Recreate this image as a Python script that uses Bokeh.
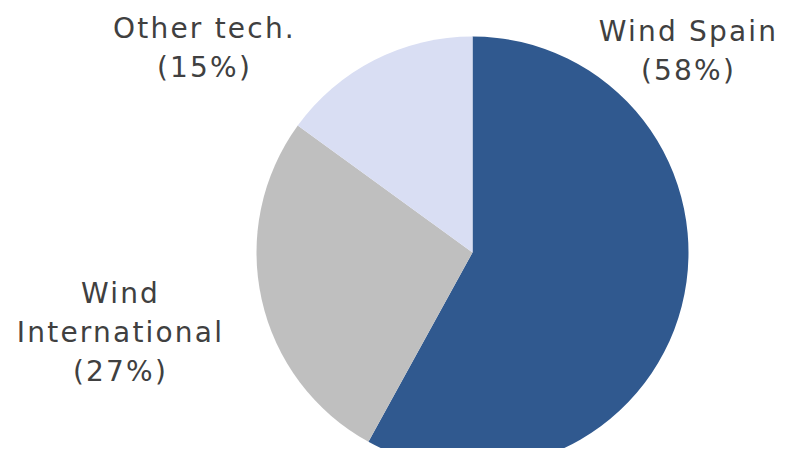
import numpy as np
from bokeh.plotting import figure
from bokeh.models import ColumnDataSource, InlineStyleSheet
from bokeh.core.properties import value
from bokeh.embed import file_html
from bokeh.resources import INLINE

# Data
categories = ["Wind Spain", "Wind International", "Other tech."]
label_lines = [["Wind Spain"], ["Wind", "International"], ["Other tech."]]
shares = [58, 27, 15]
colors = ["#30598F", "#BFBFBF", "#D9DEF3"]

W, H = 780, 448
p = figure(width=W, height=H, output_backend="svg", toolbar_location=None,
           x_range=(0, W), y_range=(0, H), min_border=0)
p.axis.visible = False
p.grid.visible = False
p.outline_line_color = None
p.background_fill_color = "white"
p.border_fill_color = "white"

cx, cy, r = 472, 196, 216
vals = np.array(shares, dtype=float)
frac = vals / vals.sum()
ends = np.pi / 2 - 2 * np.pi * np.cumsum(frac)
starts = np.concatenate([[np.pi / 2], ends[:-1]])

src = ColumnDataSource(dict(start=ends, end=starts, color=colors, name=categories))
p.wedge(x=cx, y=cy, radius=r, start_angle="start", end_angle="end",
        fill_color="color", line_color=None, source=src)

# label placement (layout): block centres in plot pixels
LS = 2.2          # letter spacing, px
FS = 28           # font size, px
LINE = 39         # line pitch, px
block_x = [688, 120, 204]
block_y = [398, 116, 401]

xs, ys, ts = [], [], []
for lines, v, bx, by in zip(label_lines, shares, block_x, block_y):
    all_lines = lines + [f"({v}%)"]
    n = len(all_lines)
    for i, s in enumerate(all_lines):
        ts.append(s)
        xs.append(bx - len(s) * LS / 2)
        ys.append(by + ((n - 1) / 2 - i) * LINE)

tsrc = ColumnDataSource(dict(x=xs, y=ys, t=ts))
p.text(x="x", y="y", text="t", source=tsrc, text_align="center",
       text_baseline="middle", text_font=value("DejaVu Sans"),
       text_font_size=f"{FS}px", text_color="#404040")

p.stylesheets = [InlineStyleSheet(css=f":host {{ letter-spacing: {LS}px; }}")]

open("out.html", "w").write(file_html(p, INLINE))
